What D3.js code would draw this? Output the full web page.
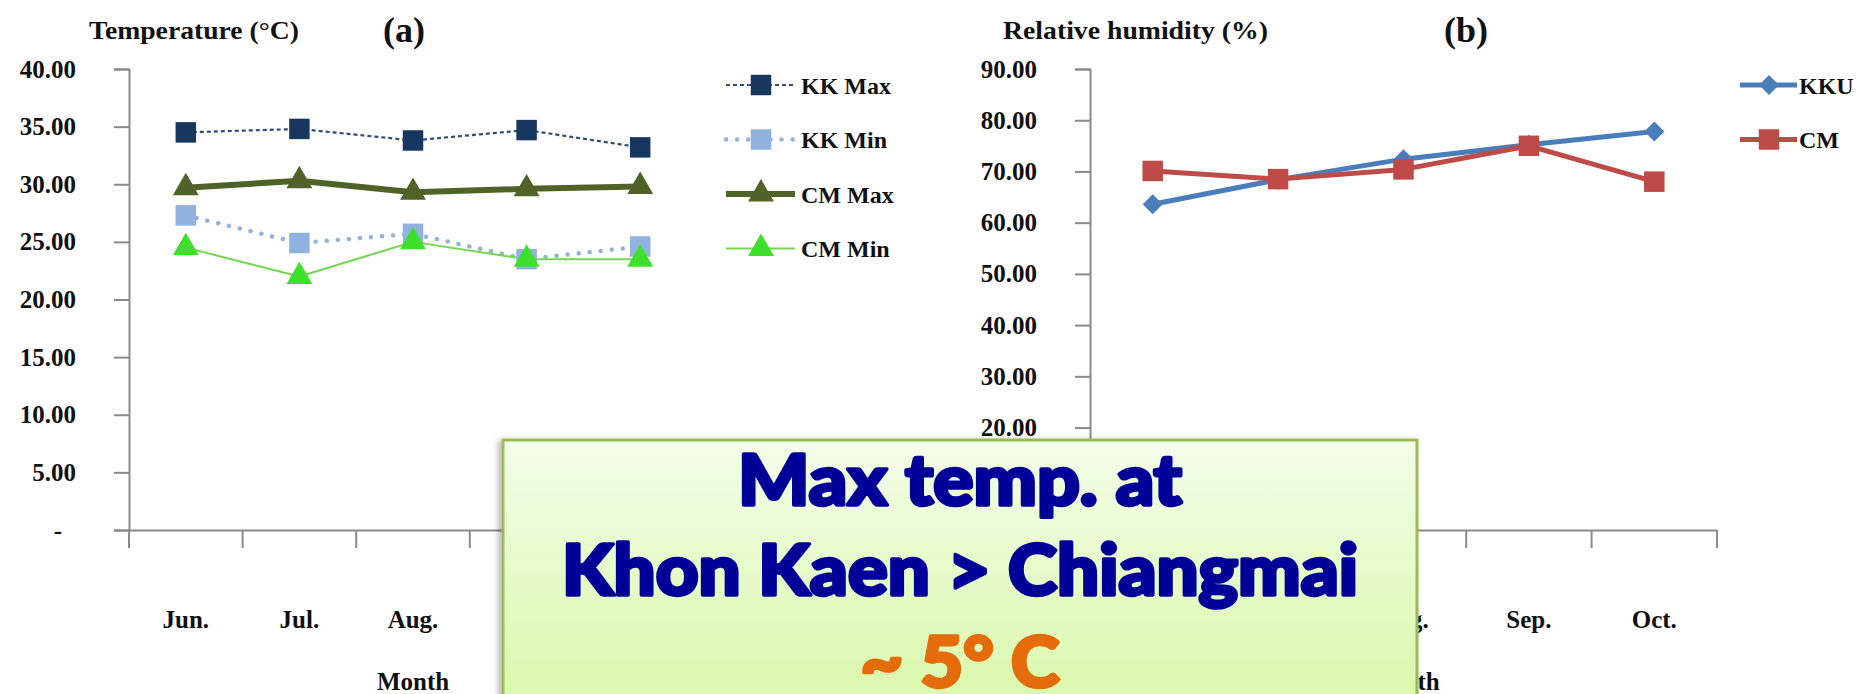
<!DOCTYPE html>
<html>
<head>
<meta charset="utf-8">
<script src="https://cdn.jsdelivr.net/npm/d3@7"></script>
<style>
  html, body { margin: 0; padding: 0; background: #ffffff; }
  svg { display: block; }
  .serif { font-family: "Liberation Serif", "Times New Roman", serif; font-weight: bold; fill: #111; }
</style>
</head>
<body>
<svg id="chart" width="1866" height="694"></svg>
<script>
// ---- data ----
const months = ["Jun.", "Jul.", "Aug.", "Sep.", "Oct."];
const kkMax = [34.5, 34.8, 33.8, 34.7, 33.2];
const kkMin = [27.3, 24.9, 25.7, 23.5, 24.6];
const cmMax = [29.7, 30.3, 29.3, 29.6, 29.8];
const cmMin = [24.5, 22.0, 25.0, 23.5, 23.5];
const rhKKU = [63.6, 68.4, 72.4, 75.2, 77.8];
const rhCM = [70.1, 68.5, 70.4, 75.0, 68.0];
const tempTicks = [0, 5, 10, 15, 20, 25, 30, 35, 40];
const rhTicks = [0, 10, 20, 30, 40, 50, 60, 70, 80, 90];
const tempSeries = ["KK Max", "KK Min", "CM Max", "CM Min"];
const rhSeries = ["KKU", "CM"];
const noteLines = ["Max temp. at", "Khon Kaen > Chiangmai", "~ 5° C"];

const svg = d3.select("#chart");
const axisColor = "#8a8a8a";
const fmt = d => d === 0 ? "-" : d.toFixed(2);

// callout rectangle drawn over the lower middle of both panels
const boxRect = { x: 503, y: 440, w: 914, h: 300 };

const styles = {
  "KK Max": { stroke: "#2f4d78", width: 2.2, dash: "4,3", cap: "butt", fill: "#17375e", symbol: d3.symbolSquare, size: 420, rot: 0 },
  "KK Min": { stroke: "#95b3d7", width: 4.5, dash: "0.1,11", cap: "round", fill: "#8fb2df", symbol: d3.symbolSquare, size: 420, rot: 0 },
  "CM Max": { stroke: "#4f6228", width: 6, dash: null, cap: "round", fill: "#4f6228", symbol: d3.symbolTriangle, size: 290, rot: 0 },
  "CM Min": { stroke: "#72d64e", width: 2, dash: null, cap: "round", fill: "#3fe02c", symbol: d3.symbolTriangle, size: 290, rot: 0 },
  "KKU": { stroke: "#4a7ebb", width: 5, dash: null, cap: "round", fill: "#4a7ebb", symbol: d3.symbolSquare, size: 200, rot: 45 },
  "CM": { stroke: "#be4b48", width: 5, dash: null, cap: "round", fill: "#be4b48", symbol: d3.symbolSquare, size: 420, rot: 0 }
};

function panel(opts) {
  const x = d3.scaleBand().domain(months).range(opts.xRange).paddingInner(0).paddingOuter(0);
  const y = d3.scaleLinear().domain(opts.yDomain).range([530, 69]);
  const g = svg.append("g");

  // y axis
  const ya = g.append("g").attr("transform", `translate(${opts.xRange[0]},0)`)
    .call(d3.axisLeft(y).tickValues(opts.ticks).tickFormat(fmt).tickSize(15).tickPadding(38));
  ya.select(".domain").attr("stroke", axisColor).attr("stroke-width", 2);
  ya.selectAll(".tick line").attr("stroke", axisColor).attr("stroke-width", 2);
  ya.selectAll(".tick text").attr("class", "serif").attr("font-size", 25)
    .attr("dx", d => d === 0 ? -14 : 0);

  // x axis: labels centred on categories, ticks on category boundaries
  const xa = g.append("g").attr("transform", "translate(0,530)")
    .call(d3.axisBottom(x).tickSize(0).tickPadding(80));
  xa.select(".domain").attr("stroke", axisColor).attr("stroke-width", 2);
  xa.selectAll(".tick text").attr("class", "serif").attr("font-size", 25);
  const bounds = months.map(m => x(m)).concat([x.range()[1]]);
  g.selectAll(".xtick").data(bounds).join("line")
    .attr("x1", d => d).attr("x2", d => d).attr("y1", 530).attr("y2", 548)
    .attr("stroke", axisColor).attr("stroke-width", 2);

  g.append("text").attr("class", "serif").attr("font-size", 25).attr("text-anchor", "middle")
    .attr("x", (opts.xRange[0] + opts.xRange[1]) / 2).attr("y", 690).text("Month");

  // titles
  g.append("text").attr("class", "serif").attr("font-size", 25).attr("x", opts.titleX).attr("y", 39)
    .attr("textLength", opts.titleW).attr("lengthAdjust", "spacingAndGlyphs").text(opts.title);
  g.append("text").attr("class", "serif").attr("font-size", 36).attr("text-anchor", "middle")
    .attr("x", opts.tagX).attr("y", 42).text(opts.tag);

  // series
  const line = d3.line().x((d, i) => x(months[i]) + x.bandwidth() / 2).y(d => y(d));
  opts.series.forEach(([name, vals]) => {
    const s = styles[name];
    g.append("path").datum(vals).attr("d", line).attr("fill", "none")
      .attr("stroke", s.stroke).attr("stroke-width", s.width)
      .attr("stroke-dasharray", s.dash).attr("stroke-linecap", s.cap).attr("stroke-linejoin", "round");
  });
  opts.series.forEach(([name, vals]) => {
    const s = styles[name];
    g.selectAll(null).data(vals).join("path")
      .attr("d", d3.symbol(s.symbol, s.size))
      .attr("transform", (d, i) => `translate(${x(months[i]) + x.bandwidth() / 2},${y(d)}) rotate(${s.rot})`)
      .attr("fill", s.fill);
  });

  // legend
  const lg = g.append("g");
  opts.series.forEach(([name], i) => {
    const s = styles[name];
    const ly = 85 + i * 54.5;
    lg.append("line").attr("x1", opts.legend.x1).attr("x2", opts.legend.x2).attr("y1", ly).attr("y2", ly)
      .attr("stroke", s.stroke).attr("stroke-width", s.width)
      .attr("stroke-dasharray", s.dash).attr("stroke-linecap", s.dash ? s.cap : "butt");
    lg.append("path").attr("d", d3.symbol(s.symbol, s.size))
      .attr("transform", `translate(${opts.legend.mx},${ly}) rotate(${s.rot})`).attr("fill", s.fill);
    lg.append("text").attr("class", "serif").attr("font-size", 24)
      .attr("x", opts.legend.tx).attr("y", ly + 8.5).text(name);
  });
}

panel({
  xRange: [129, 697], yDomain: [0, 40], ticks: tempTicks,
  title: "Temperature (°C)", titleX: 89, titleW: 210, tag: "(a)", tagX: 404,
  series: tempSeries.map((n, i) => [n, [kkMax, kkMin, cmMax, cmMin][i]]),
  legend: { x1: 726, x2: 795, mx: 761, tx: 801 }
});

panel({
  xRange: [1090, 1717], yDomain: [0, 90], ticks: rhTicks,
  title: "Relative humidity (%)", titleX: 1003, titleW: 265, tag: "(b)", tagX: 1466,
  series: rhSeries.map((n, i) => [n, [rhKKU, rhCM][i]]),
  legend: { x1: 1740, x2: 1797, mx: 1769, tx: 1799 }
});

// axis labels that end up completely under the callout are not kept
svg.selectAll("text.serif").each(function () {
  const b = this.getBBox();
  const m = this.getCTM();
  const x0 = b.x + m.e, y0 = b.y + m.f;
  if (x0 >= boxRect.x && x0 + b.width <= boxRect.x + boxRect.w && y0 >= boxRect.y) {
    d3.select(this).remove();
  }
});

// ---- callout box ----
const defs = svg.append("defs");
const grad = defs.append("linearGradient").attr("id", "boxFill").attr("x1", 0).attr("y1", 0).attr("x2", 0).attr("y2", 1);
grad.append("stop").attr("offset", "0%").attr("stop-color", "#f4fde9");
grad.append("stop").attr("offset", "100%").attr("stop-color", "#d6f7a2");
const sh = defs.append("filter").attr("id", "boxShadow").attr("x", "-5%").attr("y", "-5%").attr("width", "110%").attr("height", "110%");
sh.append("feDropShadow").attr("dx", -3).attr("dy", 2).attr("stdDeviation", 3).attr("flood-color", "#000").attr("flood-opacity", 0.3);

const box = svg.append("g");
box.append("rect").attr("x", boxRect.x).attr("y", boxRect.y).attr("width", boxRect.w).attr("height", boxRect.h)
  .attr("fill", "url(#boxFill)").attr("stroke", "#9bbb59").attr("stroke-width", 3)
  .attr("filter", "url(#boxShadow)");

const noteStyle = [
  { y: 505, fill: "#000099", w: 444 },
  { y: 595, fill: "#000099", w: 796 },
  { y: 687, fill: "#e46c0a", w: 199 }
];
noteLines.forEach((t, i) => {
  box.append("text").attr("x", 960).attr("y", noteStyle[i].y).attr("text-anchor", "middle")
    .attr("font-family", "Lato, 'Open Sans', sans-serif").attr("font-weight", 900).attr("font-size", 70)
    .attr("fill", noteStyle[i].fill)
    .attr("stroke", noteStyle[i].fill).attr("stroke-width", 3.5).attr("stroke-linejoin", "round")
    .attr("paint-order", "stroke")
    .attr("textLength", noteStyle[i].w).attr("lengthAdjust", "spacingAndGlyphs")
    .text(t);
});
</script>
</body>
</html>
